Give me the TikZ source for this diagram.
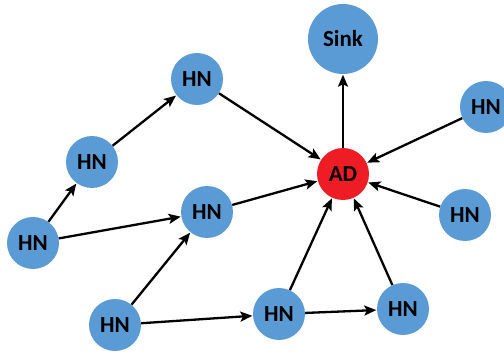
\documentclass[tikz,border=0pt]{standalone}
\usepackage{fontspec}
\setmainfont{Carlito}
\usetikzlibrary{arrows.meta}
\definecolor{nodeblue}{HTML}{5B9BD5}
\definecolor{nodered}{HTML}{EE1C24}
\tikzset{
  hn/.style={circle, fill=nodeblue, minimum size=52pt, inner sep=0pt, font=\fontsize{23}{23}\selectfont\bfseries, text=black},
  sinknode/.style={hn, minimum size=70pt},
  adnode/.style={hn, fill=nodered, minimum size=52pt},
  link/.style={line width=2.3pt, -{Stealth[length=12pt, width=10pt, inset=2.5pt]}, shorten >=0.5pt}
}
\begin{document}
\begin{tikzpicture}[x=1pt, y=-1pt]
\useasboundingbox (0,0) rectangle (504,353);
\begin{scope}
\clip (0,0) rectangle (504,353);
\node[sinknode] (sink) at (343,39) {Sink};
\node[adnode] (ad) at (343,174) {AD};
\node[hn] (h1) at (197,79) {HN};
\node[hn] (h2) at (92,162) {HN};
\node[hn] (h3) at (33,243) {HN};
\node[hn] (h4) at (207,212) {HN};
\node[hn] (h5) at (486,107) {HN};
\node[hn] (h6) at (465,215) {HN};
\node[hn] (h7) at (115,325) {HN};
\node[hn] (h8) at (279,314) {HN};
\node[hn] (h9) at (403,309) {HN};
\end{scope}
\draw[link] (ad) -- (sink);
\draw[link] (h3) -- (h2);
\draw[link] (h2) -- (h1);
\draw[link] (h1) -- (ad);
\draw[link] (h3) -- (h4);
\draw[link] (h4) -- (ad);
\draw[link] (h7) -- (h4);
\draw[link] (h7) -- (h8);
\draw[link] (h8) -- (h9);
\draw[link] (h8) -- (ad);
\draw[link] (h9) -- (ad);
\draw[link] (h6) -- (ad);
\draw[link] (h5) -- (ad);
\end{tikzpicture}
\end{document}
